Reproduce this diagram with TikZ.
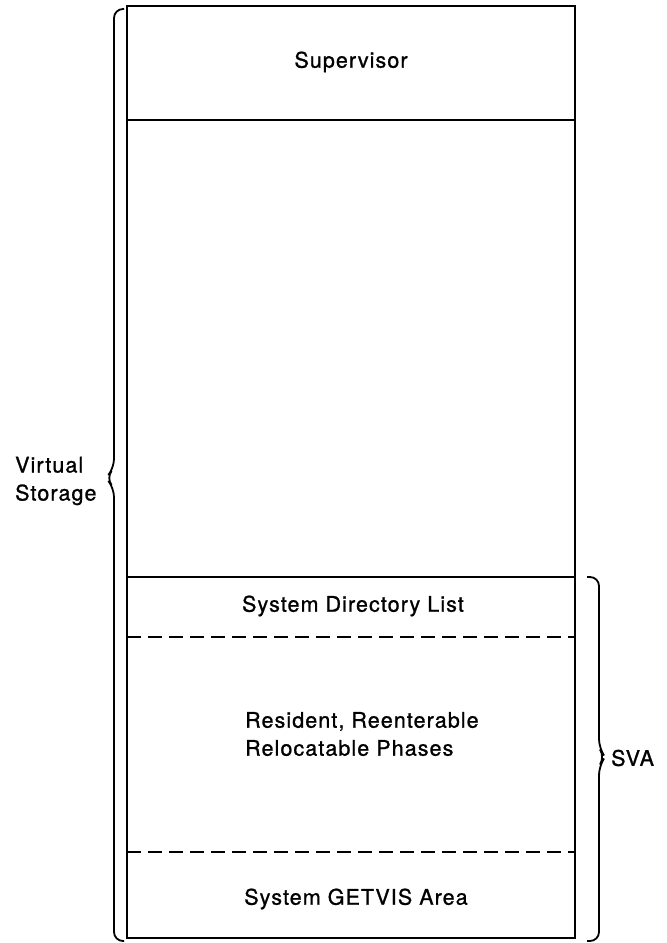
\documentclass[tikz,border=0pt]{standalone}
\usepackage{fontspec}
\setmainfont{TeX Gyre Heros}[LetterSpace=5,FakeBold=1]
\begin{document}
\begin{tikzpicture}[x=1pt,y=-1pt,
  box/.style={line width=2pt},
  sep/.style={line width=1.7pt},
  dsep/.style={line width=1.8pt,dash pattern=on 14pt off 7pt},
  brace/.style={line width=1.8pt,rounded corners=9pt},
  lbl/.style={font=\fontsize{21.5}{28}\selectfont,inner sep=0pt}]
\useasboundingbox (0,0) rectangle (667,943);
\fill[white] (0,0) rectangle (667,943);
% outer storage box
\draw[box] (127,6) rectangle (575,938);
\draw[sep] (127,120) -- (575,120);
\draw[sep] (127,577) -- (575,577);
\draw[dsep] (127,637) -- (575,637);
\draw[dsep] (127,852) -- (575,852);
% labels
\node[lbl] (sup) at (351,62) {Supervisor};
\node[lbl] (sdl) at (353,606) {System Directory List};
\node[lbl,anchor=west,align=left] (res) at (245,734) {Resident, Reenterable\\Relocatable Phases};
\node[lbl] (gv) at (356,899) {System GETVIS Area};
% left brace
\draw[brace] (124,9) -- (114,9) -- (114,468) -- (106,478) -- (114,488) -- (114,941) -- (124,941);
\node[lbl,anchor=west,align=left] (vs) at (15,481) {Virtual\\Storage};
% right brace
\draw[brace] (587,577) -- (599,577) -- (599,748) -- (605,757) -- (599,766) -- (599,941) -- (587,941);
\node[lbl,anchor=west] (sva) at (611,758) {SVA};
\end{tikzpicture}
\end{document}
